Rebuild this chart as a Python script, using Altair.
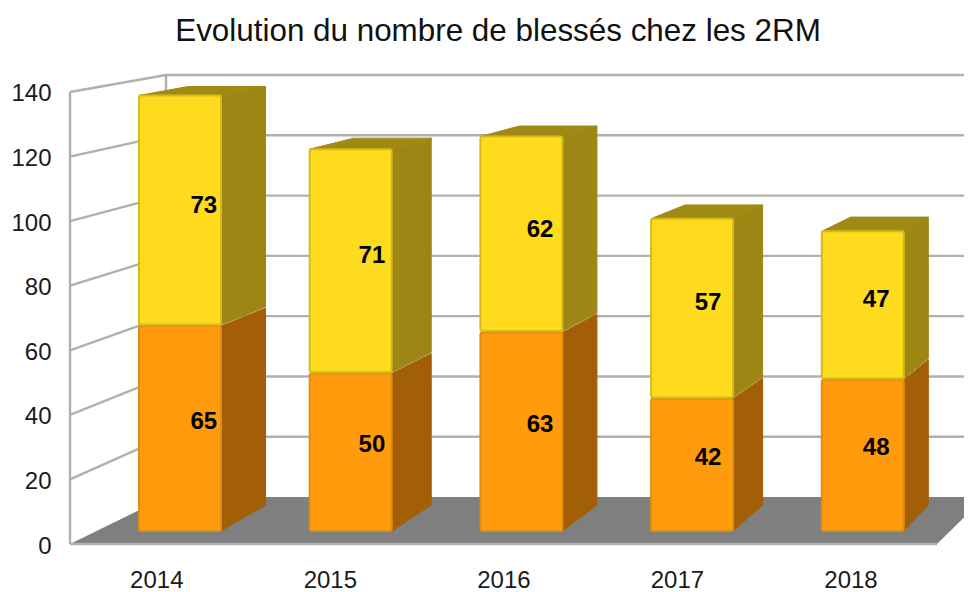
import altair as alt
import pandas as pd

years = [2014, 2015, 2016, 2017, 2018]
orange_vals = [65, 50, 63, 42, 48]
yellow_vals = [73, 71, 62, 57, 47]
y_ticks = [0, 20, 40, 60, 80, 100, 120, 140]
title_text = "Evolution du nombre de blessés chez les 2RM"
FONT = "Liberation Sans"

# projection of the pseudo-3D scene (pixels of the picture)
X0, XSTEP = 156.3, 173.55      # year label positions
Y0, YK = 544.0, 3.2286         # axis scale (front left edge)
PL, PT, PR, PB = 70.0, 62.0, 964.0, 544.0
BAR_L0, BAR_STEP, BAR_W = 139.0, 170.7, 82.0
FRONT_B, FRONT_K = 531.0, 3.16
BACK_B, BACK_K = 505.0, 3.036
BX_S, BX_C = 0.9707, 51.0
WALL_X, WALL_B, WALL_K = 166.0, 497.0, 3.014
FLOOR_R_FRONT, FLOOR_R_BACK = 937.0, 985.0


def ux(px):
    return 2014 + (px - X0) / XSTEP


def uy(py):
    return (Y0 - py) / YK


def fy(v):
    return FRONT_B - FRONT_K * v


def by(v):
    return BACK_B - BACK_K * v


def bx(x):
    return BX_S * x + BX_C


fronts, sides, tops, labels = [], [], [], []
for i, yr in enumerate(years):
    L = BAR_L0 + BAR_STEP * i
    R = L + BAR_W
    o, y = orange_vals[i], yellow_vals[i]
    for seg, lo, hi, val in (("o", 0, o, o), ("y", o, o + y, y)):
        k = f"{yr}{seg}"
        gap = 0.8 if seg == "y" else 0
        fronts.append(dict(s=seg, x=ux(L), x2=ux(R), y=uy(fy(hi) + 0.5), y2=uy(fy(lo) - gap)))
        sides.append(dict(s=seg, k=k, x=ux(R), y=uy(fy(hi) + 0.5), y2=uy(fy(lo) - gap)))
        sides.append(dict(s=seg, k=k, x=ux(bx(R)), y=uy(by(hi) + 0.5), y2=uy(by(lo) - gap)))
        mid = (lo + hi) / 2
        cx = (L + R) / 2
        labels.append(dict(x=ux(cx + 0.52 * (bx(cx) - cx)),
                           y=uy(0.7 * fy(mid) + 0.3 * by(mid)), t=str(val)))
    k = f"{yr}t"
    top = o + y
    tops.append(dict(k=k, y=uy(fy(top) + 0.5), x=ux(L), x2=ux(R)))
    tops.append(dict(k=k, y=uy(by(top) + 0.5), x=ux(bx(L) + 2), x2=ux(bx(R))))

floor = pd.DataFrame([
    dict(y=uy(Y0), x=ux(PL), x2=ux(FLOOR_R_FRONT)),
    dict(y=uy(WALL_B), x=ux(WALL_X), x2=ux(FLOOR_R_BACK)),
])

grid = []
for t in y_ticks:
    wy = uy(WALL_B - WALL_K * t)
    if t > 0:
        grid.append(dict(x=ux(WALL_X), x2=ux(PR), y=wy, y2=wy))
        grid.append(dict(x=ux(PL), x2=ux(WALL_X), y=t, y2=wy))
grid.append(dict(x=ux(WALL_X), x2=ux(WALL_X), y=uy(WALL_B), y2=uy(WALL_B - WALL_K * 140)))
grid.append(dict(x=ux(PL), x2=ux(PL), y=0, y2=140))
grid.append(dict(x=ux(PL), x2=ux(FLOOR_R_FRONT), y=0, y2=0))

xs = alt.Scale(domain=[ux(PL), ux(PR)], nice=False, zero=False)
ys = alt.Scale(domain=[uy(PB), uy(PT)], nice=False, zero=False)
xq = alt.X("x:Q", scale=xs, title=None,
           axis=alt.Axis(values=years, format="d", domain=False, ticks=False, grid=False,
                         labelFont=FONT, labelFontSize=24, labelColor="#1a1a1a",
                         labelPadding=24, labelFlush=False))
yq = alt.Y("y:Q", scale=ys, title=None, stack=None,
           axis=alt.Axis(values=y_ticks, domain=False, ticks=False, grid=False,
                         labelFont=FONT, labelFontSize=24, labelColor="#1a1a1a",
                         labelPadding=19, labelOffset=2, labelFlush=False))
x2 = alt.X2("x2:Q")
y2 = alt.Y2("y2:Q")

floor_l = alt.Chart(floor).mark_area(orient="horizontal", color="#7f7f7f", clip=True).encode(x=xq, x2=x2, y=yq)
grid_l = alt.Chart(pd.DataFrame(grid)).mark_rule(color="#b0b0b0", strokeWidth=2.4).encode(x=xq, x2=x2, y=yq, y2=y2)

sides_l = alt.Chart(pd.DataFrame(sides)).mark_area(
    orient="vertical", strokeWidth=1, strokeJoin="round", interpolate="linear"
).encode(
    x=xq, y=yq, y2=y2, detail="k:N",
    color=alt.Color("s:N", scale=alt.Scale(domain=["o", "y"], range=["#a35f08", "#9e8615"]), legend=None),
    stroke=alt.Stroke("s:N", scale=alt.Scale(domain=["o", "y"], range=["#a35f08", "#9e8615"]), legend=None),
)
tops_l = alt.Chart(pd.DataFrame(tops)).mark_area(
    orient="horizontal", color="#a08a14", stroke="#a08a14", strokeWidth=1, strokeJoin="round"
).encode(x=xq, x2=x2, y=yq, detail="k:N")

fronts_l = alt.Chart(pd.DataFrame(fronts)).mark_rect(strokeWidth=2, cornerRadius=2).encode(
    x=xq, x2=x2, y=yq, y2=y2,
    color=alt.Color("s:N", scale=alt.Scale(domain=["o", "y"], range=["#ff9b0d", "#ffdb1e"]), legend=None),
    stroke=alt.Stroke("s:N", scale=alt.Scale(domain=["o", "y"], range=["#e08e10", "#d6ba1c"]), legend=None),
)
labels_l = alt.Chart(pd.DataFrame(labels)).mark_text(
    font=FONT, fontSize=24, fontWeight="bold", color="#000000"
).encode(x=xq, y=yq, text="t:N")

chart = alt.layer(floor_l, grid_l, sides_l, tops_l, fronts_l, labels_l).resolve_scale(
    color="independent", stroke="independent"
).properties(
    width=int(PR - PL), height=int(PB - PT),
    autosize=alt.AutoSizeParams(type="none"),
    padding={"left": 62, "top": 54, "right": 0, "bottom": 47},
    background="white",
    title=alt.TitleParams(title_text, font=FONT, fontSize=31.4, fontWeight="normal",
                          color="#111111", anchor="middle", dx=-19, offset=15),
).configure_view(stroke=None)

chart.save("out.html", embed_options={"renderer": "svg", "actions": False})
